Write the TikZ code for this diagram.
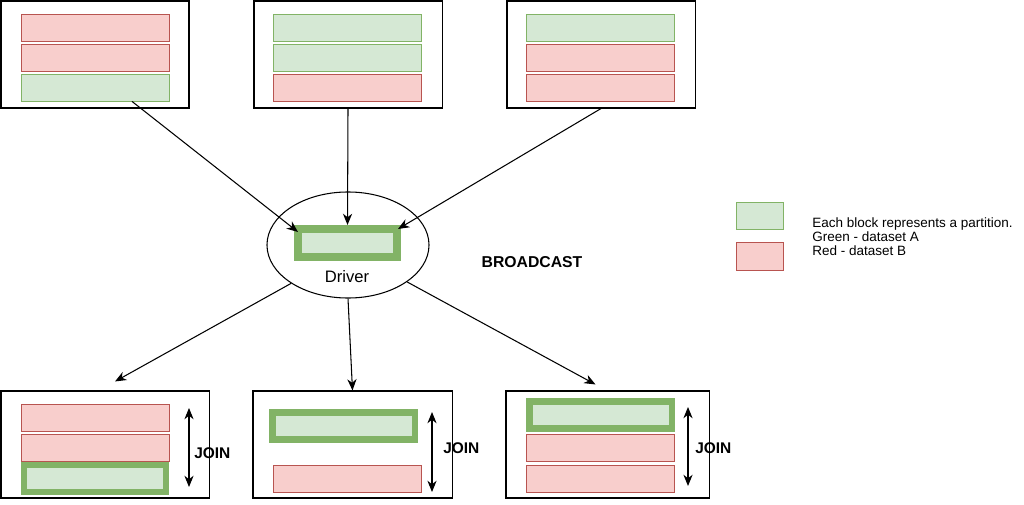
\documentclass[tikz,border=0pt]{standalone}
\usepackage{fontspec}
\setmainfont{Liberation Sans}
\usepackage{xcolor}
\usetikzlibrary{positioning,shapes.geometric,arrows.meta,calc}
\definecolor{grA}{HTML}{D5E8D4}
\definecolor{grAline}{HTML}{82B366}
\definecolor{rdB}{HTML}{F8CECC}
\definecolor{rdBline}{HTML}{B85450}
\tikzset{
  host/.style={rectangle,draw=black,line width=0.75pt,inner sep=0pt,
    minimum width=4.7cm,minimum height=2.675cm},
  partA/.style={rectangle,draw=grAline,fill=grA,line width=0.6pt,inner sep=0pt,
    minimum width=3.7cm,minimum height=0.675cm},
  partB/.style={partA,draw=rdBline,fill=rdB},
  bcast/.style={rectangle,draw=grAline,fill=grA,line width=4.3pt,inner sep=0pt,
    minimum width=3.55cm,minimum height=0.675cm},
  fl/.style={-{Stealth[length=8pt,width=6.5pt,inset=2.5pt]},draw=black,line width=0.75pt},
  joinarr/.style={{Stealth[length=8pt,width=6.5pt,inset=2.5pt]}-{Stealth[length=8pt,width=6.5pt,inset=2.5pt]},
    draw=black,line width=0.75pt},
  joinlbl/.style={anchor=west,inner sep=0pt,font=\fontsize{11}{13}\selectfont\bfseries},
}

\begin{document}
\begin{tikzpicture}[x=0.025cm,y=-0.025cm]
  \useasboundingbox (0,0) rectangle (1024,505);
  % executors before the broadcast
  \node[host] (ex1) at (95,54.5) {};
  \node[partB] (ex1a) at (95,27.5) {};
  \node[partB] (ex1b) at (95,57.5) {};
  \node[partA] (ex1c) at (95,87.5) {};
  \node[host] (ex2) at (348,54.5) {};
  \node[partA] (ex2a) at (347.5,27.5) {};
  \node[partA] (ex2b) at (347.5,57.5) {};
  \node[partB] (ex2c) at (347.5,87.5) {};
  \node[host] (ex3) at (601,54.5) {};
  \node[partA] (ex3a) at (600.5,27.5) {};
  \node[partB] (ex3b) at (600.5,57.5) {};
  \node[partB] (ex3c) at (600.5,87.5) {};
  % driver
  \node[ellipse,draw=black,line width=0.75pt,inner sep=0pt,
    minimum width=4.05cm,minimum height=2.65cm] (drv) at (348,245) {};
  \node[bcast,line width=5.7pt,minimum width=2.475cm,minimum height=0.7cm] (dbar) at (347.5,243) {};
  \node[font=\fontsize{11.8}{14}\selectfont] (drvlbl) at (347,277) {Driver};
  \node[font=\fontsize{11.2}{13}\selectfont\bfseries] (bclbl) at (532,262) {BROADCAST};
  % legend
  \node[partA,minimum width=1.175cm] (legA) at (759.5,215.5) {};
  \node[partB,minimum width=1.175cm,minimum height=0.7cm] (legB) at (759.5,256) {};
  \node[anchor=west,align=left,inner sep=0pt,font=\fontsize{9.6}{10}\selectfont] (legtxt) at (812,237)
    {Each block represents a partition.\\Green - dataset A\\Red - dataset B};
  % executors after the broadcast
  \node[host,minimum width=5.2cm] (jn1) at (105,444.5) {};
  \node[partB] (jn1a) at (95,418) {};
  \node[partB] (jn1b) at (95,447.5) {};
  \node[bcast] (jn1c) at (95,478.5) {};
  \node[host,minimum width=4.975cm] (jn2) at (352.5,444.5) {};
  \node[bcast] (jn2a) at (343.5,426) {};
  \node[partB] (jn2b) at (347.5,478.5) {};
  \node[host,minimum width=5.075cm] (jn3) at (607.5,444.5) {};
  \node[bcast] (jn3a) at (600.5,415) {};
  \node[partB] (jn3b) at (600.5,447.5) {};
  \node[partB] (jn3c) at (600.5,478.5) {};
  \coordinate (j1t) at (189,408); \coordinate (j1b) at (189,487);
  \coordinate (j2t) at (432,412); \coordinate (j2b) at (432,492);
  \coordinate (j3t) at (688,407); \coordinate (j3b) at (688,486);
  \draw[joinarr] (j1t) -- (j1b);
  \draw[joinarr] (j2t) -- (j2b);
  \draw[joinarr] (j3t) -- (j3b);
  \node[joinlbl] (jl1) at (194,453) {JOIN};
  \node[joinlbl] (jl2) at (443,448) {JOIN};
  \node[joinlbl] (jl3) at (695,448) {JOIN};
  % connectors
  \draw[fl] ($(ex1c.south)+(37,0)$) -- ($(dbar.north west)+(4,7)$);
  \draw[fl] (ex2.south) -- (dbar.north);
  \draw[fl] (ex3.south) -- ($(dbar.north east)+(-3,4)$);
  \draw[fl] (drv.214) -- ($(jn1.north)+(10,-9)$);
  \draw[fl] (drv.south) -- (jn2.north);
  \draw[fl] (drv.-32) -- ($(jn3.north)+(-12,-6)$);
\end{tikzpicture}
\end{document}
